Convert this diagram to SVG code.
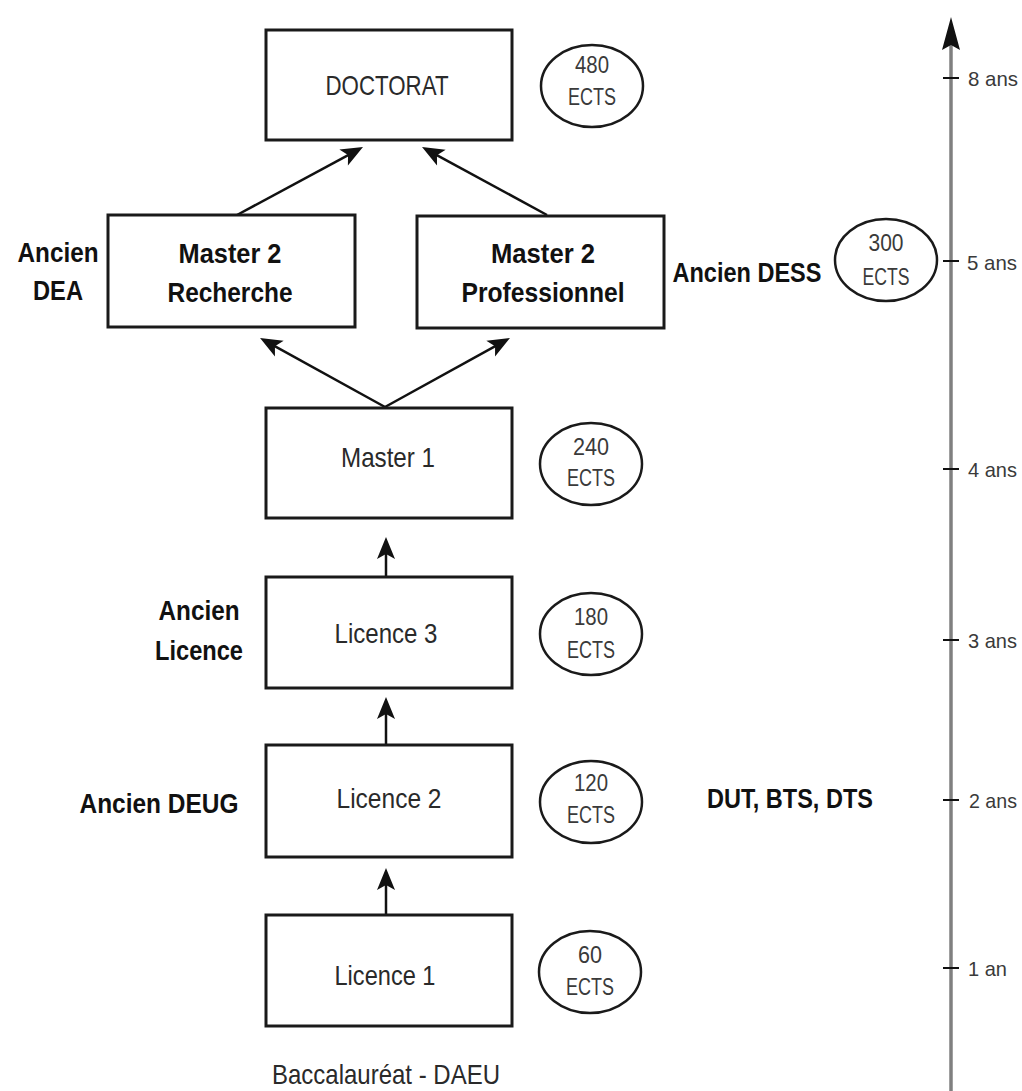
<svg xmlns="http://www.w3.org/2000/svg" width="1022" height="1091" viewBox="0 0 1022 1091">
<style>
.box{fill:#fff;stroke:#1a1a1a;stroke-width:3}
.ell{fill:#fff;stroke:#1a1a1a;stroke-width:2.5}
.t{font-family:"Liberation Sans",Arial,sans-serif;font-size:28px;fill:#2a2a2a;text-anchor:middle}
.b{font-family:"Liberation Sans",Arial,sans-serif;font-size:28px;font-weight:bold;fill:#111;text-anchor:middle}
.e{font-family:"Liberation Sans",Arial,sans-serif;font-size:23px;fill:#3a3a3a;text-anchor:middle}
.k{font-family:"Liberation Sans",Arial,sans-serif;font-size:21px;fill:#3a3a3a}
.con{stroke:#111;stroke-width:2.5;fill:none;marker-end:url(#ah)}
.tick{stroke:#111;stroke-width:2}
</style>
<defs>
<marker id="ah" markerUnits="userSpaceOnUse" viewBox="-14 -11 26 22" markerWidth="26" markerHeight="22" refX="0" refY="0" orient="auto">
<path d="M10,0 L-12,-9 L-7,0 L-12,9 Z" fill="#111"/>
</marker>
</defs>
<rect width="1022" height="1091" fill="#fff"/>

<g id="axis">
<line x1="951" y1="1091" x2="951" y2="44" stroke="#808080" stroke-width="3.5"/>
<polygon points="951,17 960,50 951,45 942,50" fill="#111"/>
<line class="tick" x1="943" y1="78" x2="959" y2="78"/>
<line class="tick" x1="943" y1="261" x2="959" y2="261"/>
<line class="tick" x1="943" y1="469" x2="959" y2="469"/>
<line class="tick" x1="943" y1="640" x2="959" y2="640"/>
<line class="tick" x1="943" y1="800" x2="959" y2="800"/>
<line class="tick" x1="943" y1="968" x2="959" y2="968"/>
<text class="k" x="968" y="86" textLength="50" lengthAdjust="spacingAndGlyphs">8 ans</text>
<text class="k" x="967" y="270" textLength="50" lengthAdjust="spacingAndGlyphs">5 ans</text>
<text class="k" x="968" y="477" textLength="49" lengthAdjust="spacingAndGlyphs">4 ans</text>
<text class="k" x="968" y="648" textLength="49" lengthAdjust="spacingAndGlyphs">3 ans</text>
<text class="k" x="969" y="808" textLength="48" lengthAdjust="spacingAndGlyphs">2 ans</text>
<text class="k" x="968" y="976" textLength="39" lengthAdjust="spacingAndGlyphs">1 an</text>
</g>

<g id="connectors">
<line class="con" x1="237" y1="215" x2="354.2" y2="151.8"/>
<line class="con" x1="547" y1="215" x2="430.8" y2="151.8"/>
<line class="con" x1="385" y1="407" x2="268.8" y2="342.8"/>
<line class="con" x1="385" y1="407" x2="501.2" y2="342.8"/>
<line class="con" x1="386" y1="577" x2="386" y2="547"/>
<line class="con" x1="386" y1="745" x2="386" y2="707"/>
<line class="con" x1="386" y1="915" x2="386" y2="878"/>
</g>

<g id="doctorat">
<rect class="box" x="266" y="30" width="246" height="110"/>
<text class="t" x="387" y="95" textLength="123" lengthAdjust="spacingAndGlyphs">DOCTORAT</text>
</g>
<g id="ects480">
<ellipse class="ell" cx="592" cy="86" rx="51" ry="41"/>
<text class="e" x="592" y="73" textLength="34" lengthAdjust="spacingAndGlyphs">480</text>
<text class="e" x="592" y="105" textLength="48" lengthAdjust="spacingAndGlyphs">ECTS</text>
</g>

<g id="m2r">
<rect class="box" x="108" y="215" width="247" height="112"/>
<text class="b" x="230" y="263" textLength="103" lengthAdjust="spacingAndGlyphs">Master 2</text>
<text class="b" x="230" y="302" textLength="125" lengthAdjust="spacingAndGlyphs">Recherche</text>
</g>
<g id="dea">
<text class="b" x="58" y="262" textLength="81" lengthAdjust="spacingAndGlyphs">Ancien</text>
<text class="b" x="58" y="300" textLength="50" lengthAdjust="spacingAndGlyphs">DEA</text>
</g>

<g id="m2p">
<rect class="box" x="417" y="216" width="247" height="112"/>
<text class="b" x="543" y="263" textLength="104" lengthAdjust="spacingAndGlyphs">Master 2</text>
<text class="b" x="543" y="302" textLength="163" lengthAdjust="spacingAndGlyphs">Professionnel</text>
</g>
<g id="dess">
<text class="b" x="747" y="282" textLength="149" lengthAdjust="spacingAndGlyphs">Ancien DESS</text>
</g>
<g id="ects300">
<ellipse class="ell" cx="886" cy="260" rx="51" ry="41"/>
<text class="e" x="886" y="251" textLength="35" lengthAdjust="spacingAndGlyphs">300</text>
<text class="e" x="886" y="285" textLength="47" lengthAdjust="spacingAndGlyphs">ECTS</text>
</g>

<g id="m1">
<rect class="box" x="266" y="408" width="246" height="110"/>
<text class="t" x="388" y="467" textLength="94" lengthAdjust="spacingAndGlyphs">Master 1</text>
</g>
<g id="ects240">
<ellipse class="ell" cx="591" cy="464" rx="51" ry="41"/>
<text class="e" x="591" y="455" textLength="36" lengthAdjust="spacingAndGlyphs">240</text>
<text class="e" x="591" y="486" textLength="48" lengthAdjust="spacingAndGlyphs">ECTS</text>
</g>

<g id="l3">
<rect class="box" x="266" y="577" width="246" height="111"/>
<text class="t" x="386" y="643" textLength="103" lengthAdjust="spacingAndGlyphs">Licence 3</text>
</g>
<g id="ancienlicence">
<text class="b" x="199" y="620" textLength="81" lengthAdjust="spacingAndGlyphs">Ancien</text>
<text class="b" x="199" y="660" textLength="88" lengthAdjust="spacingAndGlyphs">Licence</text>
</g>
<g id="ects180">
<ellipse class="ell" cx="591" cy="634" rx="51" ry="41"/>
<text class="e" x="591" y="625" textLength="34" lengthAdjust="spacingAndGlyphs">180</text>
<text class="e" x="591" y="658" textLength="48" lengthAdjust="spacingAndGlyphs">ECTS</text>
</g>

<g id="l2">
<rect class="box" x="266" y="745" width="246" height="112"/>
<text class="t" x="389" y="808" textLength="105" lengthAdjust="spacingAndGlyphs">Licence 2</text>
</g>
<g id="deug">
<text class="b" x="159" y="813" textLength="159" lengthAdjust="spacingAndGlyphs">Ancien DEUG</text>
</g>
<g id="ects120">
<ellipse class="ell" cx="591" cy="802" rx="51" ry="41"/>
<text class="e" x="591" y="791" textLength="34" lengthAdjust="spacingAndGlyphs">120</text>
<text class="e" x="591" y="823" textLength="48" lengthAdjust="spacingAndGlyphs">ECTS</text>
</g>
<g id="dut">
<text class="b" x="790" y="808" textLength="166" lengthAdjust="spacingAndGlyphs">DUT, BTS, DTS</text>
</g>

<g id="l1">
<rect class="box" x="266" y="915" width="246" height="111"/>
<text class="t" x="385" y="985" textLength="101" lengthAdjust="spacingAndGlyphs">Licence 1</text>
</g>
<g id="ects60">
<ellipse class="ell" cx="590" cy="972" rx="51" ry="41"/>
<text class="e" x="590" y="963" textLength="24" lengthAdjust="spacingAndGlyphs">60</text>
<text class="e" x="590" y="995" textLength="48" lengthAdjust="spacingAndGlyphs">ECTS</text>
</g>

<g id="bac">
<text class="t" x="386" y="1084" font-size="26" textLength="228" lengthAdjust="spacingAndGlyphs">Baccalauréat - DAEU</text>
</g>
</svg>
